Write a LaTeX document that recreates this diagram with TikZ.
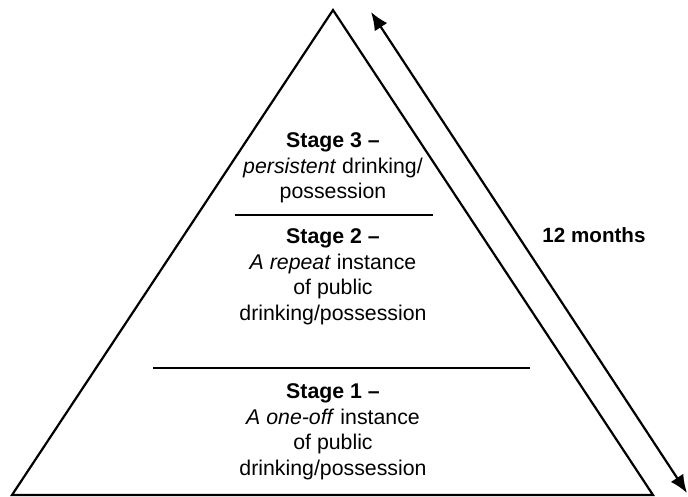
\documentclass[tikz,border=0pt]{standalone}
\usepackage{fontspec}
\setmainfont{Liberation Sans}
\usetikzlibrary{arrows.meta}
\begin{document}
\begin{tikzpicture}[x=1pt,y=-1pt,
  edge/.style={line width=2.2pt,line join=miter},
  divider/.style={line width=2.2pt},
  txt/.style={align=center,font=\fontsize{21.3}{25.5}\selectfont,inner sep=0pt},
  span/.style={line width=2.2pt,{Latex[length=18pt,width=15pt]}-{Latex[length=18pt,width=15pt]}}]
\useasboundingbox (0,0) rectangle (688,497);
\coordinate (apex) at (333,10);
\coordinate (bl) at (12,495);
\coordinate (br) at (653,495);
\draw[edge] (bl) -- (apex) -- (br) -- cycle;
\coordinate (d3a) at (235,215);
\coordinate (d3b) at (433,215);
\coordinate (d1a) at (153,368);
\coordinate (d1b) at (530,368);
\draw[divider] (d3a) -- (d3b);
\draw[divider] (d1a) -- (d1b);
\node[txt] (s3) at (333,168) {\textbf{Stage 3 –}\\\textit{persistent} drinking/\\possession};
\node[txt] (s2) at (333,277) {\textbf{Stage 2 –}\\\textit{A repeat} instance\\of public\\drinking/possession};
\node[txt] (s1) at (333,432) {\textbf{Stage 1 –}\\\textit{A one-off} instance\\of public\\drinking/possession};
\coordinate (at) at (371,12);
\coordinate (ab) at (687,493);
\draw[span] (at) -- (ab);
\node[txt,font=\fontsize{20.6}{25}\selectfont\bfseries] (m) at (594,235) {12 months};
\end{tikzpicture}
\end{document}
